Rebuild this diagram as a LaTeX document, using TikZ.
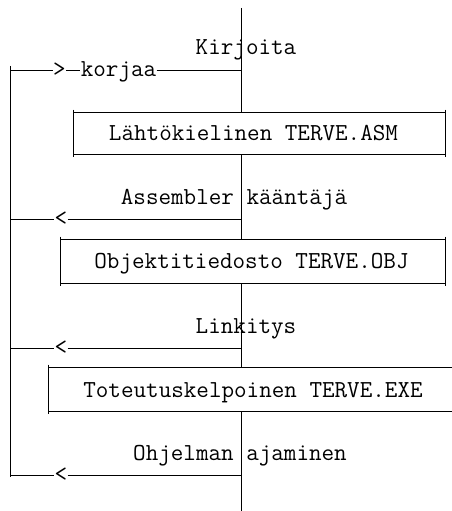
\documentclass[tikz,border=0pt]{standalone}
\usepackage{fontspec}
\begin{document}
\begin{tikzpicture}[x=1pt,y=-1pt,line width=0.8pt,
  lbl/.style={font=\ttfamily\fontsize{24.4}{27}\selectfont,inner sep=0pt,anchor=base},
  tip/.style={font=\ttfamily\fontsize{24.4}{27}\selectfont,inner sep=0pt,anchor=center},
  boxn/.style={inner sep=0pt,draw=none}]
\useasboundingbox (0,0) rectangle (451,511);
% boxes
\node[boxn,minimum width=371pt,minimum height=41pt] (b1) at (259.5,133.5) {};
\node[boxn,minimum width=384pt,minimum height=43pt] (b2) at (253,261.5) {};
\node[boxn,minimum width=406pt,minimum height=43pt] (b3) at (252,389.5) {};
\foreach \b in {b1,b2}{
  \draw (\b.north west) -- (\b.north east);
  \draw (\b.south west) -- (\b.south east);
  \draw ([yshift=3pt]\b.north west) -- ([yshift=-3pt]\b.south west);
  \draw ([yshift=3pt]\b.north east) -- ([yshift=-3pt]\b.south east);
}
\draw (b3.north west) -- (b3.north east);
\draw (b3.south west) -- (b3.south east);
\draw ([yshift=3pt]b3.north west) -- ([yshift=-3pt]b3.south west);
% texts
\node[lbl] (t0) at (246,54.5) {Kirjoita};
\node[lbl] (kor) at (118.5,76) {korjaa};
\node[lbl] (t1) at (253.5,140) {Lähtökielinen TERVE.ASM};
\node[lbl] (a1) at (234,204) {Assembler kääntäjä};
\node[lbl] (t2) at (251.5,268) {Objektitiedosto TERVE.OBJ};
\node[lbl] (l2) at (246,333) {Linkitys};
\node[lbl] (t3) at (253,397) {Toteutuskelpoinen TERVE.EXE};
\node[lbl] (o3) at (240,460) {Ohjelman ajaminen};
% main line
\coordinate (top) at (241,8);
\coordinate (bot) at (241,511);
\draw (top) -- (top |- b1.north);
\draw (top |- b1.south) -- (top |- b2.north);
\draw (top |- b2.south) -- (top |- b3.north);
\draw (top |- b3.south) -- (bot);
% left return line
\coordinate (lt) at (10,66);
\coordinate (lb) at (10,477);
\draw (lt) -- (lb);
% row 1
\node[tip] (g1) at (59.5,70) {>};
\draw (g1.west -| lt) -- (g1.west);
\draw (g1.east) -- (g1.east -| kor.west);
\draw (g1.east -| kor.east) -- (g1.east -| top);
% rows with <
\node[tip] (s2) at (61,219) {<};
\node[tip] (s3) at (61,348) {<};
\node[tip] (s4) at (61,475) {<};
\foreach \s in {s2,s3,s4}{
  \draw (\s.west -| lt) -- (\s.west);
  \draw (\s.east) -- (\s.east -| top);
}
\end{tikzpicture}
\end{document}
